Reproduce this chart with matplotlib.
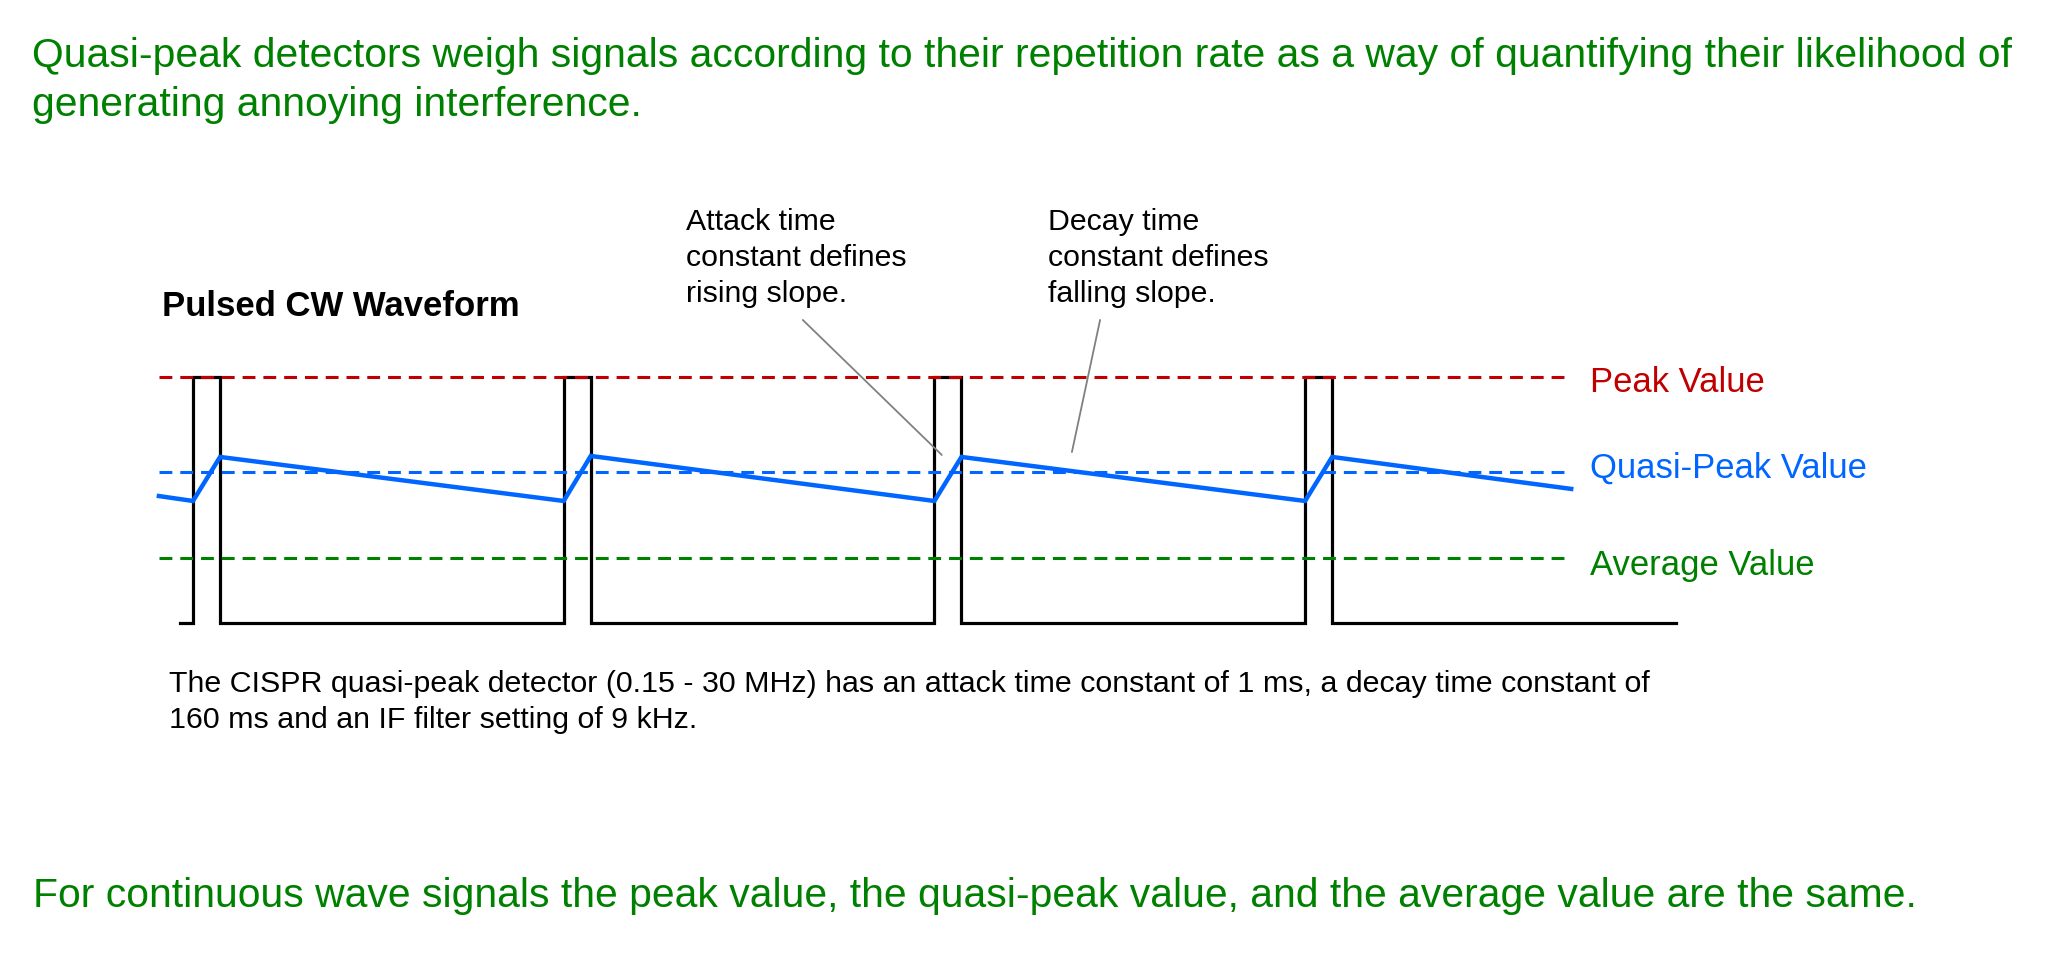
import matplotlib
matplotlib.use("Agg")
import matplotlib.pyplot as plt

# Pulsed CW waveform (time in pulse periods, level relative to peak)
pulse_starts = [0, 1, 2, 3]
pulse_width = 0.073
wave_begin = -0.035
wave_end = 4.0

# detector levels
peak_level = 1.0
qp_level = 0.614
avg_level = 0.264
level_begin = -0.092
level_end = 3.718

# quasi-peak detector output (rises during pulse, decays between pulses)
qp_t = [-0.092, 0.0, 0.073, 1.0, 1.073, 2.0, 2.073, 3.0, 3.073, 3.718]
qp_v = [0.516, 0.496, 0.675, 0.496, 0.679, 0.496, 0.675, 0.496, 0.675, 0.545]

level_names = ["Peak Value", "Quasi-Peak Value", "Average Value"]

title_lines = ["Quasi-peak detectors weigh signals according to their repetition rate as a way of quantifying their likelihood of",
               "generating annoying interference."]
footer = "For continuous wave signals the peak value, the quasi-peak value, and the average value are the same."
cispr_lines = ["The CISPR quasi-peak detector (0.15 - 30 MHz) has an attack time constant of 1 ms, a decay time constant of",
               "160 ms and an IF filter setting of 9 kHz."]
attack_lines = ["Attack time", "constant defines", "rising slope."]
decay_lines = ["Decay time", "constant defines", "falling slope."]

RED = "#C00000"
BLUE = "#0066FF"
GREEN = "#008000"
GRAY = "#808080"

W, H = 2068, 957
plt.rcParams['font.family'] = ['Liberation Sans', 'DejaVu Sans']

fig = plt.figure(figsize=(W / 100, H / 100), dpi=100)
ax = fig.add_axes([0.0754, 0.3362, 0.7439, 0.2827])
ax.set_xlim(-0.1, 4.05)
ax.set_ylim(-0.05, 1.05)
ax.axis('off')


def put(x, y, s, **kw):
    # place text by pixel position (from top left)
    fig.text(x / W, 1 - y / H, s, va='baseline', ha='left', **kw)


# pulse train
wave_t = [wave_begin]
wave_v = [0]
for s in pulse_starts:
    wave_t += [s, s, s + pulse_width, s + pulse_width]
    wave_v += [0, peak_level, peak_level, 0]
wave_t.append(wave_end)
wave_v.append(0)
ax.plot(wave_t, wave_v, color='black', lw=2.3, solid_joinstyle='miter', zorder=1)

# quasi-peak trace
ax.plot(qp_t, qp_v, color=BLUE, lw=3.2, solid_joinstyle='miter', zorder=2)

# level lines
dash = (0, (4.2, 2.6))
for lvl, c in zip([peak_level, qp_level, avg_level], [RED, BLUE, GREEN]):
    ax.plot([level_begin, level_end], [lvl, lvl], color=c, lw=2.2, linestyle=dash, zorder=3)

# leader lines
ax.annotate('', xy=(2.02, 0.683), xytext=(1.645, 1.232), annotation_clip=False,
            arrowprops=dict(arrowstyle='-', color=GRAY, lw=1.3, shrinkA=0, shrinkB=0))
ax.annotate('', xy=(2.371, 0.695), xytext=(2.447, 1.232), annotation_clip=False,
            arrowprops=dict(arrowstyle='-', color=GRAY, lw=1.3, shrinkA=0, shrinkB=0))

# texts
put(32, 67, title_lines[0], color=GREEN, fontsize=29.4)
put(32, 116, title_lines[1], color=GREEN, fontsize=29.4)
put(33, 907, footer, color=GREEN, fontsize=29.4)
put(162, 316, "Pulsed CW Waveform", fontsize=25, fontweight='bold')
for i, line in enumerate(attack_lines):
    put(686, 230 + 36 * i, line, fontsize=21.8)
for i, line in enumerate(decay_lines):
    put(1048, 230 + 36 * i, line, fontsize=21.8)
for i, line in enumerate(cispr_lines):
    put(169, 692 + 36.5 * i, line, fontsize=21.9)
for name, c, yb in zip(level_names, [RED, BLUE, GREEN], [392, 478, 575]):
    put(1590, yb, name, color=c, fontsize=24.9)

fig.savefig("out.png", dpi=100, facecolor='white')
